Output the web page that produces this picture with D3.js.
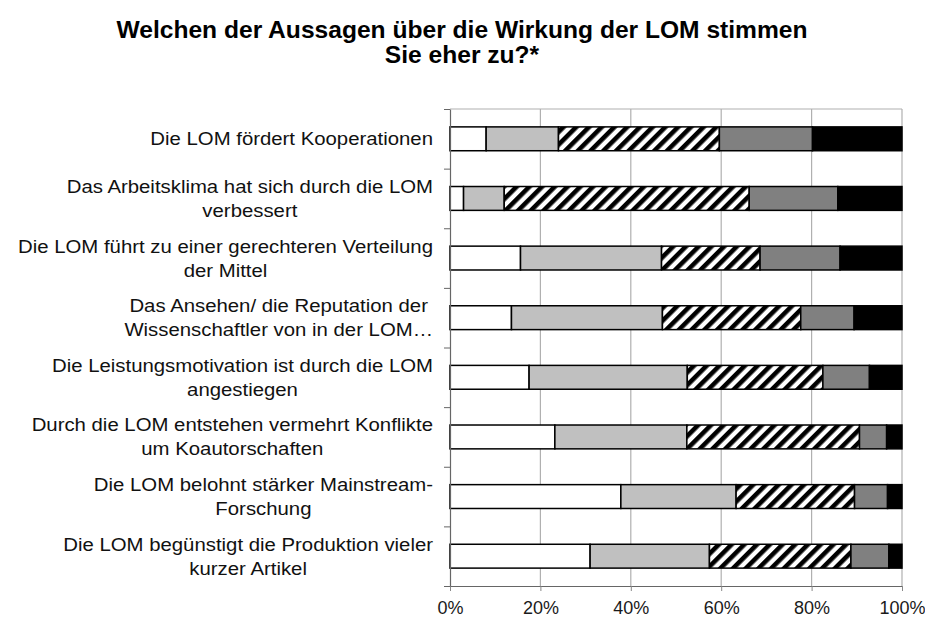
<!DOCTYPE html>
<html lang="de">
<head>
<meta charset="UTF-8">
<title>Welchen der Aussagen über die Wirkung der LOM stimmen Sie eher zu?</title>
<style>
  body { margin: 0; background: #fff; }
  svg { display: block; font-family: "Liberation Sans", Arial, sans-serif; }
</style>
</head>
<body>
<svg id="chart" width="925" height="619"></svg>
<script src="https://cdn.jsdelivr.net/npm/d3@7"></script>
<script>
// Aussagen, von oben nach unten ("\n" = Zeilenumbruch)
const categories = [
  "Die LOM fördert Kooperationen",
  "Das Arbeitsklima hat sich durch die LOM\nverbessert",
  "Die LOM führt zu einer gerechteren Verteilung\nder Mittel",
  "Das Ansehen/ die Reputation der\nWissenschaftler von in der LOM…",
  "Die Leistungsmotivation ist durch die LOM\nangestiegen",
  "Durch die LOM entstehen vermehrt Konflikte\num Koautorschaften",
  "Die LOM belohnt stärker Mainstream-\nForschung",
  "Die LOM begünstigt die Produktion vieler\nkurzer Artikel"
];

// Anteile in % je Antwortstufe
const white  = [8.0, 3.0, 15.6, 13.6, 17.5, 23.2, 37.8, 31.0];
const light  = [16.0, 9.0, 31.2, 33.4, 35.0, 29.2, 25.5, 26.4];
const hatch  = [35.6, 54.2, 21.8, 30.6, 30.0, 38.2, 26.2, 31.3];
const dark   = [20.6, 19.6, 17.7, 11.8, 10.3, 6.0, 7.3, 8.4];
const black  = [19.8, 14.2, 13.7, 10.6, 7.2, 3.4, 3.2, 2.9];

const tickValues = [0, 20, 40, 60, 80, 100];
const tickLabels = ["0%", "20%", "40%", "60%", "80%", "100%"];

const titleLines = ["Welchen der Aussagen über die Wirkung der LOM stimmen", "Sie eher zu?*"];

// Tabelle für d3.stack
const keys = ["white", "light", "hatch", "dark", "black"];
const table = categories.map((c, i) => ({
  cat: c, white: white[i], light: light[i], hatch: hatch[i], dark: dark[i], black: black[i]
}));

const fills = {
  white: "#ffffff",
  light: "#c0c0c0",
  hatch: "url(#hatch)",
  dark: "#808080",
  black: "#000000"
};

const svg = d3.select("#chart");
const plotL = 450, plotR = 902, plotT = 109, plotB = 586;

// Schraffur-Muster
const pat = svg.append("defs").append("pattern")
  .attr("id", "hatch")
  .attr("patternUnits", "userSpaceOnUse")
  .attr("width", 9).attr("height", 9)
  .attr("patternTransform", "rotate(45)");
pat.append("rect").attr("width", 9).attr("height", 9).attr("fill", "#fff");
pat.append("rect").attr("width", 4.6).attr("height", 9).attr("fill", "#000");

const x = d3.scaleLinear().domain([0, 100]).range([plotL, plotR]);
const y = d3.scaleBand().domain(categories).range([plotT, plotB])
  .paddingInner(0.6).paddingOuter(0.3);
const yEdges = d3.scaleLinear().domain([0, categories.length]).range([plotT, plotB]);

// Gitterlinien
svg.append("g")
  .selectAll("line")
  .data(tickValues.slice(1))
  .join("line")
  .attr("x1", d => x(d)).attr("x2", d => x(d))
  .attr("y1", plotT).attr("y2", plotB)
  .attr("stroke", "#b0b0b0").attr("stroke-width", 1.2);
svg.append("line")
  .attr("x1", plotL).attr("x2", plotR)
  .attr("y1", plotT).attr("y2", plotT)
  .attr("stroke", "#b0b0b0").attr("stroke-width", 1.2);

// gestapelte Balken
const stacked = d3.stack().keys(keys)(table);
svg.append("g")
  .selectAll("g")
  .data(stacked)
  .join("g")
  .attr("fill", d => fills[d.key])
  .selectAll("rect")
  .data(d => d)
  .join("rect")
  .attr("x", d => x(d[0]))
  .attr("y", d => y(d.data.cat))
  .attr("width", d => x(d[1]) - x(d[0]))
  .attr("height", y.bandwidth())
  .attr("stroke", "#000")
  .attr("stroke-width", 1.5);

// Achsen
const xAxis = svg.append("g")
  .attr("transform", `translate(0,${plotB})`)
  .call(d3.axisBottom(x).tickValues(tickValues)
    .tickFormat((d, i) => tickLabels[i]).tickSize(5).tickSizeOuter(0));
xAxis.select(".domain").attr("stroke", "#666").attr("stroke-width", 1.2);
xAxis.selectAll(".tick line").attr("stroke", "#888");
xAxis.selectAll(".tick text")
  .attr("y", 28).attr("dy", null)
  .attr("font-size", 18)
  .attr("font-family", "Liberation Sans, Arial, sans-serif")
  .attr("fill", "#1a1a1a");

const yAxis = svg.append("g")
  .attr("transform", `translate(${plotL},0)`)
  .call(d3.axisLeft(yEdges).tickValues(d3.range(categories.length + 1))
    .tickFormat("").tickSize(6).tickSizeOuter(0));
yAxis.select(".domain").attr("stroke", "#666").attr("stroke-width", 1.2);
yAxis.selectAll(".tick line").attr("stroke", "#666");

// Beschriftungen der Kategorien (zentrierte Zeilen, rechtsbündiger Block)
const labelRight = 433, lineH = 24, labelSize = 18.5, sx = 1.1;
categories.forEach(c => {
  const lines = c.split("\n");
  const cy = y(c) + y.bandwidth() / 2;
  const g = svg.append("g");
  const texts = lines.map((t, i) => g.append("text")
    .attr("font-size", labelSize)
    .attr("fill", "#111")
    .attr("text-anchor", "middle")
    .attr("transform", `scale(${sx},1)`)
    .attr("y", cy + (i - (lines.length - 1) / 2) * lineH)
    .attr("dy", "0.35em")
    .text(t));
  const w = d3.max(texts, t => t.node().getComputedTextLength()) * sx;
  const cx = labelRight - w / 2;
  texts.forEach(t => t.attr("x", cx / sx));
});

// Titel
const tsx = 1.07;
svg.append("g")
  .selectAll("text")
  .data(titleLines)
  .join("text")
  .attr("transform", `scale(${tsx},1)`)
  .attr("x", 462 / tsx)
  .attr("y", (d, i) => 38 + i * 25)
  .attr("text-anchor", "middle")
  .attr("font-size", 23)
  .attr("font-weight", "bold")
  .attr("fill", "#000")
  .text(d => d);
</script>
</body>
</html>
